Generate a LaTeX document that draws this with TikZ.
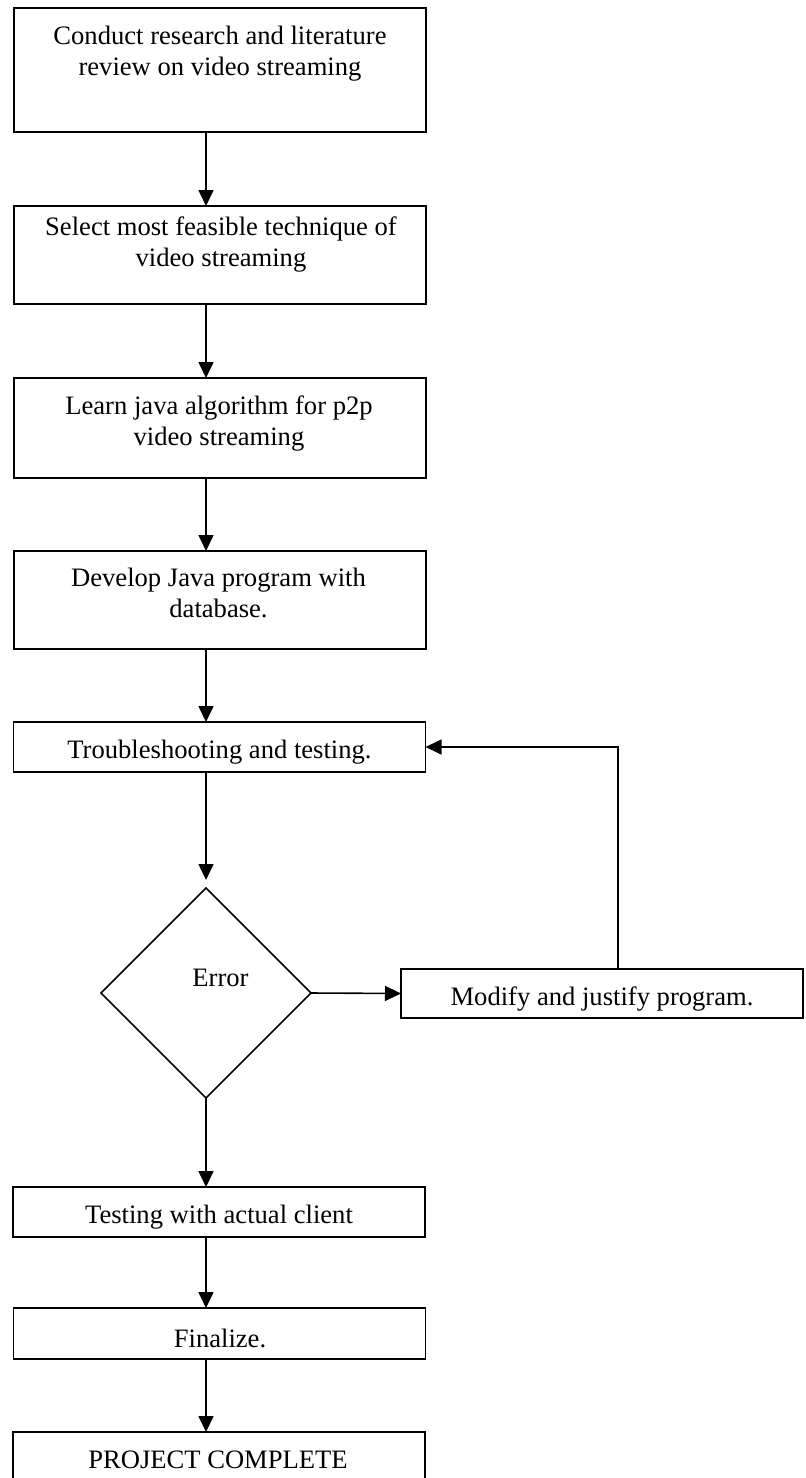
\documentclass[tikz,border=0pt]{standalone}
\usepackage{fontspec}
\setmainfont{Liberation Serif}
\usetikzlibrary{arrows.meta,shapes.geometric}
\newcommand\flowfont{\fontsize{13.3pt}{15.5pt}\selectfont}
\begin{document}
\begin{tikzpicture}[x=0.5pt,y=-0.5pt,
  stepbox/.style={draw, line width=0.8pt, inner sep=0pt, outer sep=0pt, minimum width=206pt},
  lbl/.style={font=\flowfont, align=center, inner sep=0pt, outer sep=0pt},
  decision/.style={diamond, draw, line width=0.8pt, inner sep=0pt, outer sep=0pt,
                   minimum width=105pt, minimum height=105pt},
  flow/.style={line width=0.8pt, -{Triangle[length=8pt,width=7.5pt]}}
]
\useasboundingbox (0,0) rectangle (805,1478);
\clip (0,0) rectangle (805,1478);

% process boxes
\node[stepbox, minimum height=62pt]   (b1) at (220,70) {};
\node[stepbox, minimum height=49pt]   (b2) at (220,255) {};
\node[stepbox, minimum height=50pt]   (b3) at (220,428) {};
\node[stepbox, minimum height=49pt]   (b4) at (220,600) {};
\node[stepbox, minimum height=25pt]   (b5) at (219.5,747) {};
\node[decision]                       (d)  at (206,993) {};
\node[stepbox, minimum width=201pt, minimum height=24.5pt] (b6) at (602,993.5) {};
\node[stepbox, minimum height=25pt]   (b7) at (219,1212) {};
\node[stepbox, minimum height=25.5pt] (b8) at (219.5,1333.5) {};
\node[stepbox, minimum height=25pt]   (b9) at (219,1457) {};

% labels
\node[lbl, anchor=north] (t1) at (220,26.2) {Conduct research and literature\\review on video streaming};
\node[lbl, anchor=north] (t2) at (221,216.5) {Select most feasible technique of\\video streaming};
\node[lbl, anchor=north] (t3) at (219,396.2) {Learn java algorithm for p2p\\video streaming};
\node[lbl, anchor=north] (t4) at (218.5,567.8) {Develop Java program with\\database.};
\node[lbl, anchor=base] (t5) at (219.5,758.5) {Troubleshooting and testing.};
\node[lbl, anchor=base] (te) at (220.5,986) {Error};
\node[lbl, anchor=base] (t6) at (602,1005) {Modify and justify program.};
\node[lbl, anchor=base] (t7) at (219,1223.5) {Testing with actual client};
\node[lbl, anchor=base] (t8) at (220,1347) {Finalize.};
\node[lbl, anchor=base] (t9) at (218,1468) {PROJECT COMPLETE};

% connectors
\coordinate (ret) at (618,747);
\draw[flow] (b1.south -| d.north) -- (b2.north -| d.north);
\draw[flow] (b2.south -| d.north) -- (b3.north -| d.north);
\draw[flow] (b3.south -| d.north) -- (b4.north -| d.north);
\draw[flow] (b4.south -| d.north) -- (b5.north -| d.north);
\draw[flow, shorten >=4pt] (b5.south -| d.north) -- (d.north);
\draw[flow] (d.east) -- (b6.west);
\draw[flow] (b6.north -| ret) |- (b5.east);
\draw[flow] (d.south) -- (b7.north -| d.south);
\draw[flow] (b7.south -| d.south) -- (b8.north -| d.south);
\draw[flow] (b8.south -| d.south) -- (b9.north -| d.south);
\end{tikzpicture}
\end{document}
